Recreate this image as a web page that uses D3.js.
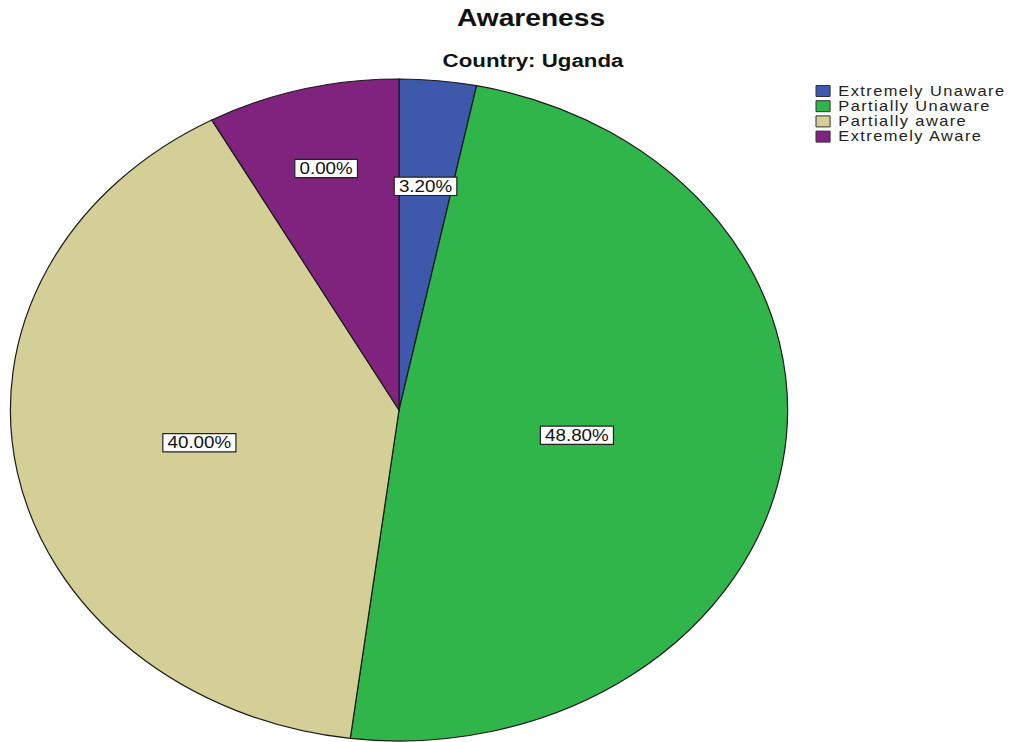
<!DOCTYPE html>
<html><head><meta charset="utf-8">
<script src="https://cdn.jsdelivr.net/npm/d3@7"></script>
<style>body{margin:0;background:#fff}svg{display:block}</style>
</head><body>
<svg id="chart" width="1014" height="742"></svg>
<script>
const categories = ["Extremely Unaware", "Partially Unaware", "Partially aware", "Extremely Aware"];
const values = [3.2, 48.8, 40.0, 8.0];
const labels = ["3.20%", "48.80%", "40.00%", "0.00%"];
const colors = ["#3e58ac", "#2fb54a", "#d4cf97", "#80237f"];
const labelRadius = [0.68, 0.464, 0.523, 0.754];
const title = "Awareness";
const subtitle = "Country: Uganda";

const svg = d3.select("#chart");
const sx = 1.174; // horizontal stretch
const R = 331;

svg.append("text").attr("transform", `translate(531,26) scale(${sx},1)`)
  .attr("text-anchor", "middle").attr("font-family", "Liberation Sans, Arial, sans-serif")
  .attr("font-weight", "bold").attr("font-size", 24).attr("fill", "#111").text(title);
svg.append("text").attr("transform", `translate(533,67) scale(${sx},1)`)
  .attr("text-anchor", "middle").attr("font-family", "Liberation Sans, Arial, sans-serif")
  .attr("font-weight", "bold").attr("font-size", 19).attr("fill", "#111").text(subtitle);

const g = svg.append("g").attr("transform", `translate(399,410) scale(${sx},1)`);
const pie = d3.pie().sort(null).value(d => d);
const arcs = pie(values);
const arc = d3.arc().innerRadius(0).outerRadius(R);

g.selectAll("path.slice").data(arcs).join("path")
  .attr("class", "slice").attr("d", arc)
  .attr("fill", (d, i) => colors[i])
  .attr("stroke", "#1a1a1a").attr("stroke-width", 1.2)
  .attr("vector-effect", "non-scaling-stroke");

const lab = g.selectAll("g.lab").data(arcs).join("g").attr("class", "lab")
  .attr("transform", (d, i) => {
    const m = (d.startAngle + d.endAngle) / 2;
    const r = R * labelRadius[i];
    return `translate(${r * Math.sin(m)},${-r * Math.cos(m)})`;
  });
lab.each(function(d, i) {
  const s = d3.select(this);
  const t = s.append("text").attr("text-anchor", "middle").attr("dy", "0.36em")
    .attr("font-family", "Liberation Sans, Arial, sans-serif").attr("font-size", 16)
    .attr("fill", "#111").text(labels[i]);
  const bb = t.node().getBBox();
  s.insert("rect", "text").attr("x", bb.x - 4).attr("y", bb.y)
    .attr("width", bb.width + 8).attr("height", bb.height)
    .attr("fill", "#fff").attr("stroke", "#222").attr("stroke-width", 1.2)
    .attr("vector-effect", "non-scaling-stroke");
});

const leg = svg.append("g").attr("transform", `translate(816,0) scale(${sx},1)`);
categories.forEach((c, i) => {
  const y = 91 + i * 15.2;
  leg.append("rect").attr("x", 0).attr("y", y - 5.5).attr("width", 12).attr("height", 11)
    .attr("fill", colors[i]).attr("stroke", "#333").attr("stroke-width", 1)
    .attr("vector-effect", "non-scaling-stroke");
  leg.append("text").attr("x", 19).attr("y", y).attr("dy", "0.35em")
    .attr("font-family", "Liberation Sans, Arial, sans-serif").attr("font-size", 14)
    .attr("letter-spacing", 1.2).attr("fill", "#222").text(c);
});
</script>
</body></html>
